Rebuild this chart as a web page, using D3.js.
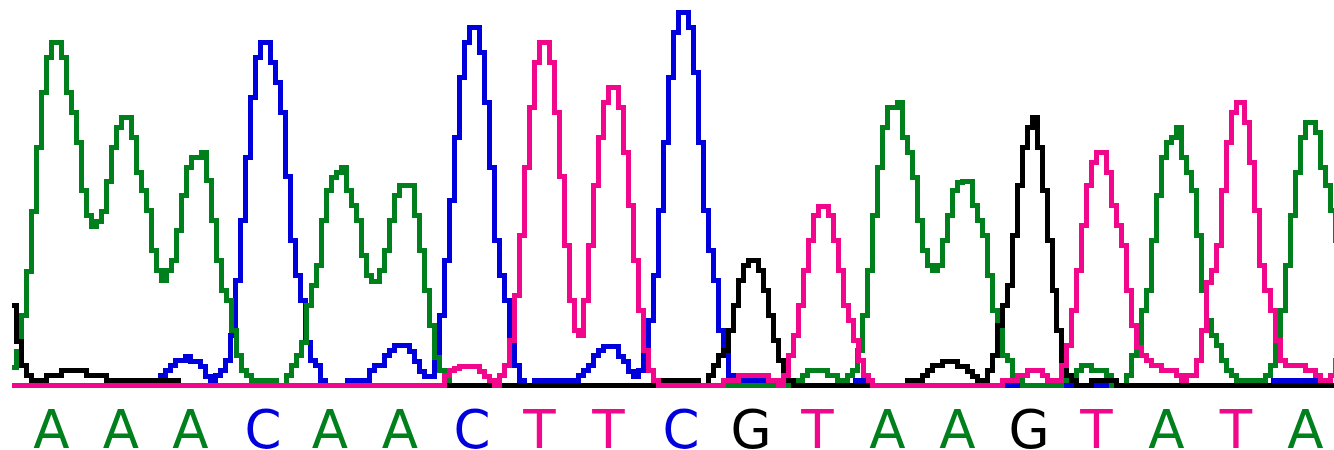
<!DOCTYPE html>
<html>
<head>
<meta charset="utf-8">
<script src="https://cdn.jsdelivr.net/npm/d3@7"></script>
<style>
  html, body { margin: 0; padding: 0; background: #ffffff; }
  svg { display: block; }
</style>
</head>
<body>
<svg id="chart" width="1334" height="450"></svg>
<script>
// ---- data: base calls ----
const baseCalls = ["A","A","A","C","A","A","C","T","T","C","G","T","A","A","G","T","A","T","A"];
const basePositions = [10.3, 24.2, 38.1, 52.6, 66.0, 80.0, 94.4, 107.9, 121.7, 136.2, 150.2, 163.5, 177.5, 191.5, 205.8, 219.3, 233.3, 247.2, 261.1];

// ---- data: traces, [scan, intensity] break points ----
const traceA = [
  [2.8,3.6],[3.3,6.8],[4.3,14.0],[5.3,22.8],[6.3,34.8],[7.3,47.6],[8.3,58.6],[9.3,65.6],[10.3,68.6],
  [12.3,65.6],[13.3,58.6],[14.3,54.6],[15.3,48.6],[16.3,39.0],[17.3,34.0],[18.3,31.8],[19.3,32.8],[20.3,34.8],
  [21.3,40.8],[22.3,47.6],[23.3,51.6],[24.3,53.6],[26.3,49.6],[27.3,42.6],[28.3,39.0],[29.3,35.0],[30.3,27.0],
  [31.3,23.0],[32.3,21.0],[33.3,23.0],[34.3,25.0],[35.3,31.0],[36.3,38.0],[37.3,43.6],[38.3,45.6],[40.3,46.6],
  [41.3,41.0],[42.3,33.0],[43.3,25.0],[44.3,19.0],[45.3,17.0],[46.3,11.0],[47.3,6.0],[48.3,3.0],[49.3,2.0],
  [50.3,1.0],[55.3,0],[57.3,2.0],[58.3,4.0],[59.3,6.0],[60.3,8.6],[61.3,16.0],[62.3,20.0],[63.3,24.0],
  [64.3,33.0],[65.3,39.0],[66.3,41.6],[67.3,42.6],[68.3,43.6],[69.3,39.0],[70.3,36.0],[71.3,33.0],[72.3,26.0],
  [73.3,22.0],[74.3,20.8],[75.9,23.0],[76.9,27.0],[77.9,33.0],[78.9,38.0],[79.9,40.0],[82.9,34.0],[83.9,27.0],
  [84.9,19.0],[85.9,12.0],[86.9,5.6],[87.9,3.0],[88.9,2.0],[89.9,0],
  [158.7,1.0],[160.5,2.0],[161.5,3.0],[165.5,2.0],[167.5,1.0],[169.5,2.0],[170.5,3.0],[171.5,7.0],[172.5,14.0],
  [173.5,23.0],[174.5,34.0],[175.5,43.6],[176.5,51.6],[177.5,55.6],[179.5,56.6],[180.5,49.6],[181.5,46.6],
  [182.5,41.6],[183.5,33.0],[184.5,27.0],[185.5,24.0],[186.5,23.0],[187.5,24.0],[188.5,29.0],[189.5,34.0],
  [190.5,39.0],[191.5,40.6],[192.5,40.8],[194.5,36.0],[195.5,33.0],[196.5,30.0],[197.5,22.0],[198.5,15.0],
  [199.5,13.0],[200.5,6.0],[201.5,5.0],[202.5,2.0],[203.5,1.0],[204.5,0],
  [212.3,1.0],[214.3,2.0],[215.3,3.0],[216.3,3.9],[218.3,3.0],[221.3,2.0],[222.3,0],
  [225.3,2.0],[226.3,6.0],[227.3,7.0],[228.3,15.0],[229.3,19.0],[230.3,29.0],[231.3,38.0],[232.3,45.6],
  [233.3,48.6],[234.3,49.6],[235.3,51.6],[236.3,45.6],[237.3,42.6],[238.3,39.0],[239.3,30.0],[240.3,19.0],
  [241.3,13.0],[242.3,10.0],[243.3,8.0],[244.3,5.0],[245.3,3.0],[246.3,2.0],[247.3,1.0],[253.1,2.0],
  [254.1,4.0],[255.1,8.0],[256.1,15.0],[257.1,24.0],[258.1,34.0],[259.1,42.6],[260.1,49.6],[261.1,52.6],
  [263.1,50.6],[264.1,43.6],[265.1,40.0],[266.1,35.0],[267.1,29.0]
];

const traceC = [
  [2.8,0],[32.1,2.0],[33.1,3.0],[34.1,4.0],[35.1,5.0],[37.1,5.8],[38.1,4.8],[40.1,3.8],[41.1,1.8],[42.1,0.9],
  [43.1,2.0],[44.1,3.0],[45.1,5.0],[46.1,10.0],[47.1,21.0],[48.1,33.0],[49.1,45.6],[50.1,57.6],[51.1,65.6],
  [52.1,68.6],[54.1,64.6],[55.1,60.6],[56.1,54.6],[57.1,41.8],[58.1,29.0],[59.1,22.0],[60.1,17.0],[61.1,8.6],
  [62.1,5.0],[63.1,4.0],[64.1,0.9],[65.1,0],
  [69.4,0.9],[73.9,3.0],[74.9,4.0],[76.9,6.0],[77.9,7.0],[78.9,8.0],[81.9,6.8],[82.9,4.8],[83.9,2.8],[84.9,1.8],
  [86.9,5.0],[87.9,14.0],[88.9,25.0],[89.9,37.0],[90.9,49.6],[91.9,61.6],[92.9,68.6],[93.9,71.6],[95.9,66.6],
  [96.9,56.6],[97.9,43.6],[98.9,29.0],[99.9,22.0],[100.9,17.0],[101.9,10.0],[102.9,4.0],[103.9,0.9],[104.9,0],
  [106.9,0.9],[115.7,2.0],[116.7,3.0],[117.7,4.0],[118.7,6.0],[119.7,7.0],[120.7,7.8],[123.7,5.8],[124.7,4.8],
  [125.7,2.8],[126.7,1.8],[127.7,3.0],[128.7,6.0],[129.7,13.0],[130.7,22.0],[131.7,35.0],[132.7,48.6],
  [133.7,61.6],[134.7,70.6],[135.7,74.6],[137.7,71.6],[138.7,62.6],[139.7,48.6],[140.7,35.0],[141.7,27.0],
  [142.7,21.0],[143.7,11.0],[144.7,8.0],[145.7,2.0],[146.7,0.9],[153.7,0],
  [171.0,0.9],[173.0,0],[254.6,0.9],[263.6,0],[266.8,0]
];

const traceG = [
  [2.8,16.0],[3.3,8.8],[4.3,4.0],[5.3,2.0],[6.3,0.9],[9.3,1.9],[12.3,2.9],[17.3,1.9],[21.3,0.9],[35.6,0],
  [131.7,0.9],[139.7,0],[141.7,2.0],[142.7,4.0],[143.7,6.0],[144.7,7.0],[145.7,11.0],[146.7,16.0],[147.7,21.0],
  [148.7,24.0],[149.7,25.0],[151.7,23.0],[152.7,19.0],[153.7,14.0],[154.7,9.0],[155.7,5.0],[156.7,3.0],
  [157.7,0.9],[158.7,0],
  [181.5,0.9],[184.5,1.9],[185.5,2.9],[186.5,3.9],[188.5,4.8],[191.5,3.8],[193.5,2.8],[194.5,1.8],[195.5,0.9],
  [197.5,3.0],[198.5,6.0],[199.5,12.0],[200.5,16.0],[201.5,20.0],[202.5,30.0],[203.5,40.0],[204.5,47.6],
  [205.5,51.6],[206.5,53.6],[207.5,47.6],[208.5,39.0],[209.5,29.0],[210.5,19.0],[211.3,11.0],[212.3,5.0],
  [213.3,2.0],[214.3,0.9],[215.3,0],[218.3,0.9],[223.3,0],[266.8,0]
];

const traceT = [
  [2.8,0],[88.9,2.0],[89.9,3.0],[90.9,3.4],[91.9,3.8],[95.9,2.8],[96.9,1.8],[97.9,0.9],[98.9,0],[99.9,2.0],
  [100.9,4.0],[101.9,9.0],[102.9,18.0],[103.9,30.0],[104.9,43.6],[105.9,55.6],[106.9,64.6],[107.9,68.6],
  [109.9,64.6],[110.9,54.6],[111.9,41.8],[112.9,28.0],[113.9,17.0],[114.9,11.0],[115.7,10.0],[116.6,17.0],
  [117.7,28.0],[118.7,40.0],[119.7,49.6],[120.7,56.6],[121.7,59.6],[123.7,55.6],[124.7,46.6],[125.7,36.0],
  [126.7,25.0],[127.7,15.0],[128.7,7.0],[129.7,3.0],[130.7,0.9],[131.7,0],
  [144.7,0.9],[147.7,2.0],[153.7,0.9],[155.7,0],[156.7,2.0],[157.7,6.0],[158.7,10.0],[159.7,16.0],[160.7,23.0],
  [161.7,29.0],[162.7,34.0],[163.7,35.8],[165.7,34.0],[166.7,29.0],[167.7,23.0],[168.7,16.0],[169.7,13.0],
  [170.7,9.0],[171.7,5.0],[172.7,2.0],[173.7,0.9],[174.5,0],
  [200.5,0.9],[203.5,2.0],[205.5,3.0],[208.5,2.0],[209.5,0.9],[212.3,4.0],[213.3,8.0],[214.3,15.0],[215.3,23.0],
  [216.3,32.0],[217.3,40.0],[218.3,44.6],[219.3,46.6],[221.3,42.6],[222.3,36.0],[223.3,32.0],[224.3,28.0],
  [225.3,19.0],[226.3,12.0],[227.3,7.6],[228.3,6.0],[229.3,5.0],[230.3,4.0],[232.3,3.0],[235.3,2.0],[236.3,0.9],
  [237.3,2.0],[239.3,5.0],[240.3,11.0],[241.3,20.6],[242.3,23.0],[243.3,28.0],[244.3,39.0],[245.3,48.6],
  [246.3,54.6],[247.3,56.6],[248.9,52.6],[249.9,44.6],[250.9,35.0],[251.9,24.0],[252.9,19.0],[254.1,15.0],
  [255.1,9.0],[256.1,5.0],[257.1,4.0],[261.1,3.0],[263.1,2.0],[264.1,0.9],[266.1,2.0],[267.0,5.0]
];

// ---- colours per base ----
const baseColors = { A: "#00801c", C: "#0000dc", G: "#000000", T: "#f0078c" };

// ---- drawing ----
const svg = d3.select("#chart");
const W = 1334, H = 450;

const x = d3.scaleLinear().domain([0, 266.8]).range([0, W]);
const y = d3.scaleLinear().domain([0, 77]).range([385, 0]);

const clip = svg.append("defs").append("clipPath").attr("id", "plotclip");
clip.append("rect").attr("x", x(2.8) - 2.5).attr("y", 0).attr("width", W).attr("height", 392);

const line = d3.line()
  .x(d => x(d[0]))
  .y(d => y(d[1]))
  .curve(d3.curveStepAfter);

const traces = [
  { base: "C", data: traceC },
  { base: "A", data: traceA },
  { base: "G", data: traceG },
  { base: "T", data: traceT }
];

svg.append("g").attr("clip-path", "url(#plotclip)")
  .selectAll("path")
  .data(traces)
  .join("path")
  .attr("d", d => line(d.data))
  .attr("fill", "none")
  .attr("stroke", d => baseColors[d.base])
  .attr("stroke-width", 5)
  .attr("stroke-linejoin", "miter")
  .attr("stroke-linecap", "square")
  .attr("shape-rendering", "crispEdges");

svg.append("g")
  .selectAll("text")
  .data(baseCalls.map((b, i) => ({ b, p: basePositions[i] })))
  .join("text")
  .attr("x", d => x(d.p))
  .attr("y", 448)
  .attr("text-anchor", "middle")
  .attr("font-family", "DejaVu Sans, sans-serif")
  .attr("font-size", 53)
  .attr("fill", d => baseColors[d.b])
  .text(d => d.b);
</script>
</body>
</html>
